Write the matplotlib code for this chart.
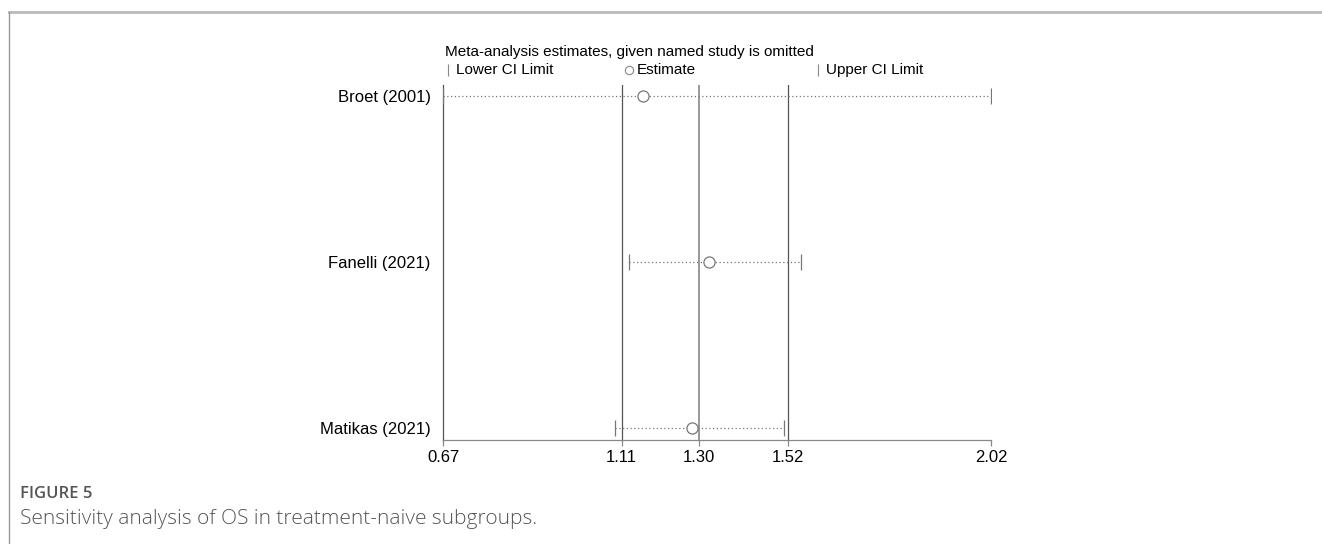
import matplotlib
matplotlib.use("Agg")
import matplotlib.pyplot as plt
from matplotlib.lines import Line2D

# estimates with each named study left out
studies = ["Broet (2001)", "Fanelli (2021)", "Matikas (2021)"]
est = [1.163, 1.325, 1.283]
lower = [0.67, 1.128, 1.094]
upper = [2.02, 1.552, 1.510]

# overall pooled result: lower, estimate, upper
overall = [1.11, 1.30, 1.52]
xticks = [0.67, 1.11, 1.30, 1.52, 2.02]
xtick_labels = ["0.67", "1.11", "1.30", "1.52", "2.02"]

W, H = 1322, 544
fig = plt.figure(figsize=(W / 100, H / 100), dpi=100)
plt.rcParams["font.family"] = ["Liberation Sans", "DejaVu Sans"]


def px(x0, y0, x1, y1):
    # pixel box -> figure fraction rect
    return [x0 / W, 1 - y1 / H, (x1 - x0) / W, (y1 - y0) / H]


ax = fig.add_axes(px(443, 85, 991, 440))
ax.set_xlim(0.67, 2.02)
ax.set_ylim(2 + 12 / 166, -11 / 166)

for v, lw, c in zip(overall, [0.9, 1.4, 0.9], ["#555555", "#999999", "#555555"]):
    ax.axvline(v, color=c, lw=lw, zorder=1)

ypos = range(len(studies))
for y, lo, e, hi in zip(ypos, lower, est, upper):
    ax.plot([lo, hi], [y, y], ls=(0, (1, 2)), color="#777777", lw=0.9, zorder=2)
    ax.plot([lo, hi], [y, y], ls="none", marker="|", ms=11, mew=0.9,
            color="#777777", zorder=3)
    ax.plot(e, y, marker="o", ms=8, mfc="white", mec="#777777", mew=0.9, zorder=4)

ax.set_yticks(list(ypos))
ax.set_yticklabels(studies, fontsize=12)
ax.tick_params(axis="y", length=0, pad=9)
ax.set_xticks(xticks)
ax.set_xticklabels(xtick_labels, fontsize=12)
ax.tick_params(axis="x", length=4, color="#888888", pad=3, width=0.9)
for s in ["top", "right"]:
    ax.spines[s].set_visible(False)
ax.spines["left"].set_color("#555555")
ax.spines["left"].set_linewidth(0.9)
ax.spines["bottom"].set_color("#888888")
ax.spines["bottom"].set_linewidth(0.9)

# heading and key above the plot
fig.text(445 / W, 1 - 52 / H, "Meta-analysis estimates, given named study is omitted",
         fontsize=11, va="center", ha="left")
key = [(448, "|", "Lower CI Limit"), (629, "o", "Estimate"), (818, "|", "Upper CI Limit")]
for x, m, lab in key:
    fig.add_artist(Line2D([x / W], [1 - 70 / H], marker=m, ms=8 if m == "|" else 6,
                          mfc="white", mec="#888888", mew=0.8, ls="none",
                          transform=fig.transFigure))
    fig.text((x + 8) / W, 1 - 70 / H, lab, fontsize=11, va="center", ha="left")

# page frame and caption
fig.add_artist(Line2D([9 / W, 1], [1 - 12 / H, 1 - 12 / H], color="#bbbbbb", lw=2,
                      transform=fig.transFigure))
fig.add_artist(Line2D([9 / W, 9 / W], [1 - 12 / H, 0], color="#999999", lw=1,
                      transform=fig.transFigure))
fig.text(20 / W, 1 - 494 / H, "FIGURE 5", fontsize=12, color="#555555",
         family=["Open Sans", "DejaVu Sans"], fontweight="semibold", va="center")
fig.text(20 / W, 1 - 519 / H, "Sensitivity analysis of OS in treatment-naive subgroups.",
         fontsize=15, color="#555555", family=["Open Sans", "DejaVu Sans"],
         fontweight="light", va="center")

fig.savefig("out.png", dpi=100)
